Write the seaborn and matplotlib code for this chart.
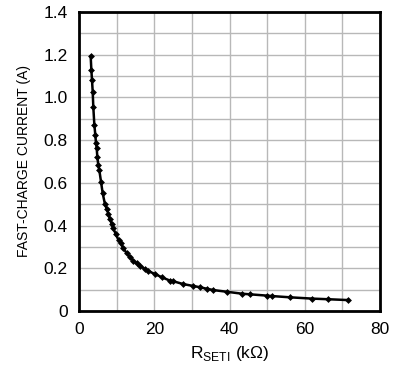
import matplotlib
matplotlib.use("Agg")
import matplotlib.pyplot as plt
import seaborn as sns
import pandas as pd
from matplotlib.ticker import FixedLocator
from matplotlib import font_manager

r_seti = [3.1, 3.28, 3.46, 3.64, 3.8, 4.08, 4.34, 4.52, 4.7, 4.87, 5.13, 5.4, 5.85, 6.3,
          6.9, 7.4, 7.8, 8.2, 8.7, 9.1, 9.75, 10.5, 11.1, 11.8, 12.7, 13.6, 14.4, 15.3,
          16.2, 17.6, 18.4, 20.2, 22.0, 24.2, 25.1, 27.7, 30.4, 32.2, 34.0, 35.7, 39.3,
          43.3, 45.5, 49.9, 51.2, 56.1, 61.9, 66.3, 71.6]
current = [1.194, 1.13, 1.08, 1.027, 0.956, 0.871, 0.824, 0.785, 0.762, 0.722, 0.683, 0.66,
           0.605, 0.551, 0.500, 0.478, 0.455, 0.432, 0.408, 0.387, 0.362, 0.332, 0.317,
           0.293, 0.270, 0.251, 0.236, 0.223, 0.212, 0.195, 0.187, 0.173, 0.158, 0.142,
           0.139, 0.126, 0.117, 0.111, 0.104, 0.098, 0.090, 0.081, 0.078, 0.072, 0.070,
           0.064, 0.058, 0.055, 0.051]
x_ticks = [0, 20, 40, 60, 80]
x_labels = ["0", "20", "40", "60", "80"]
y_ticks = [0, 0.2, 0.4, 0.6, 0.8, 1.0, 1.2, 1.4]
y_labels = ["0", "0.2", "0.4", "0.6", "0.8", "1.0", "1.2", "1.4"]

df = pd.DataFrame({"r": r_seti, "i": current})

sns.set_theme(style="white")
names = {f.name for f in font_manager.fontManager.ttflist}
fam = "Liberation Sans Narrow" if "Liberation Sans Narrow" in names else "Liberation Sans"
plt.rcParams['font.family'] = [fam, 'DejaVu Sans']

fig = plt.figure(figsize=(4, 3.75), dpi=100)
ax = fig.add_axes([0.1975, 0.1707, 0.7525, 0.7973])
sns.lineplot(data=df, x="r", y="i", ax=ax, color="black", linewidth=1.8,
             marker="D", markersize=3.5, markeredgewidth=0, zorder=3)

ax.set_xlim(0, 80)
ax.set_ylim(0, 1.4)
ax.set_xticks(x_ticks)
ax.set_xticklabels(x_labels)
ax.set_yticks(y_ticks)
ax.set_yticklabels(y_labels)
ax.xaxis.set_minor_locator(FixedLocator([10, 30, 50, 70]))
ax.yaxis.set_minor_locator(FixedLocator([0.1, 0.3, 0.5, 0.7, 0.9, 1.1, 1.3]))
ax.grid(True, which="both", color="#b8b8b8", linewidth=1.0)
ax.set_axisbelow(True)
ax.tick_params(which="both", length=0, labelsize=12.5, colors="black", pad=8)
for s in ax.spines.values():
    s.set_color("black")
    s.set_linewidth(2.0)

ax.set_xlabel(r"R$_{\mathregular{SETI}}$ (kΩ)", fontsize=12.5, color="black", labelpad=5)
ax.set_ylabel("FAST-CHARGE CURRENT (A)", fontsize=10, color="black", labelpad=9)

fig.savefig("out.png", dpi=100)
